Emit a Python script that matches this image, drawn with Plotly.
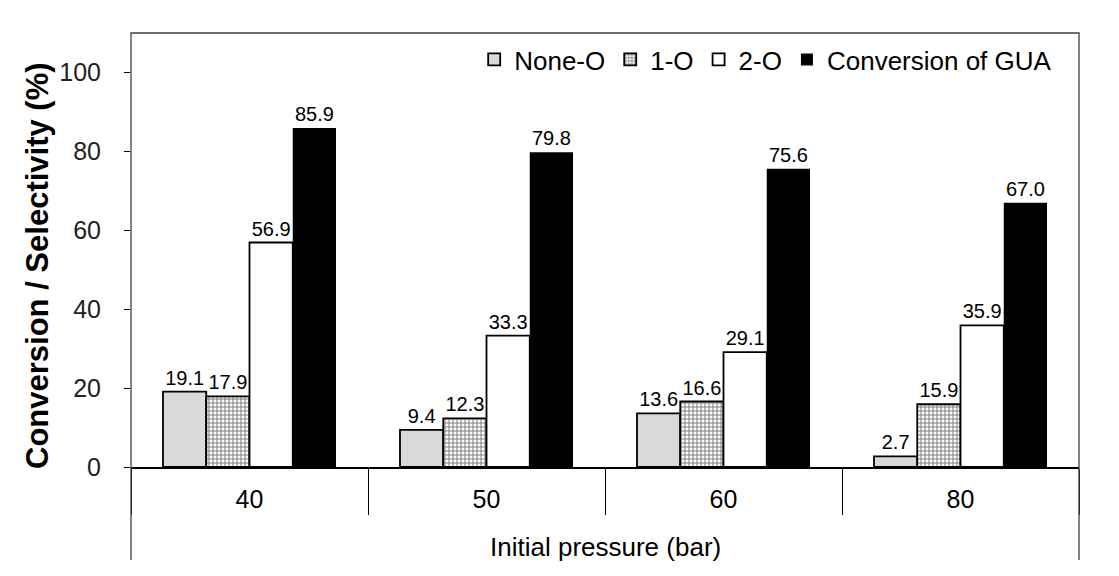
import plotly.graph_objects as go

categories = ["40", "50", "60", "80"]
none_o = [19.1, 9.4, 13.6, 2.7]
one_o = [17.9, 12.3, 16.6, 15.9]
two_o = [56.9, 33.3, 29.1, 35.9]
conversion = [85.9, 79.8, 75.6, 67.0]
series_names = ["None-O", "1-O", "2-O", "Conversion of GUA"]
y_ticks = [0, 20, 40, 60, 80, 100]

FONT = "Liberation Sans, Arial, sans-serif"

fig = go.Figure()

def add(name, vals, color, pattern=None, lw=1.8):
    fig.add_trace(go.Bar(
        name=name, x=categories, y=vals,
        marker=dict(color=color, line=dict(color="black", width=lw),
                    pattern=pattern),
        text=[f"{v:.1f}" for v in vals], textposition="outside",
        textfont=dict(family=FONT, size=20, color="black"),
        constraintext="none", cliponaxis=False,
    ))

add(series_names[0], none_o, "#d9d9d9")
add(series_names[1], one_o, "white",
    pattern=dict(shape="+", fgcolor="black", bgcolor="white", size=4, solidity=0.45))
add(series_names[2], two_o, "white")
add(series_names[3], conversion, "black", lw=0)

# page body has an 8px margin, so the figure is sized to fit the window
W, H = 1111, 568
L, R, T = 123, 40, 25
PH = 434
B = H - T - PH
PW = W - L - R

frame_bottom = -(93) / PH

fig.update_layout(
    width=W, height=H,
    margin=dict(l=L, r=R, t=T, b=B),
    paper_bgcolor="white", plot_bgcolor="white",
    barmode="group", bargap=0.27, bargroupgap=0,
    font=dict(family=FONT, size=20, color="black"),
    showlegend=True,
    legend=dict(orientation="h", x=0.977, xanchor="right", y=0.993, yanchor="top",
                font=dict(family=FONT, size=26, color="black"),
                bgcolor="rgba(0,0,0,0)", itemwidth=30, tracegroupgap=0),
    xaxis=dict(
        type="category", tickson="boundaries", ticks="outside", ticklen=46,
        tickcolor="black", tickwidth=1, showline=True, linecolor="black", linewidth=1.5,
        tickfont=dict(family=FONT, size=25, color="black"),
        ticklabelstandoff=9, showgrid=False, zeroline=False,
    ),
    yaxis=dict(
        range=[0, 110], tickvals=y_ticks, ticks="outside", ticklen=6,
        tickcolor="black", showline=False, showgrid=False, zeroline=False,
        tickfont=dict(family=FONT, size=25, color="#222"),
        ticklabelstandoff=18,
    ),
    shapes=[
        dict(type="path", xref="paper", yref="paper",
             path=f"M 0 {frame_bottom} L 0 1 L 1 1 L 1 {frame_bottom}",
             line=dict(color="#404040", width=1.3)),
    ],
    annotations=[
        dict(text="<b>Conversion / Selectivity (%)</b>", xref="paper", yref="paper",
             x=-(L + 8 - 37) / PW, y=(201) / PH, textangle=-90,
             showarrow=False, font=dict(family=FONT, size=31, color="black"),
             xanchor="center", yanchor="middle"),
        dict(text="Initial pressure (bar)", xref="paper", yref="paper",
             x=0.5, y=-(80) / PH, showarrow=False,
             font=dict(family=FONT, size=26, color="black"),
             xanchor="center", yanchor="middle"),
    ],
)

fig.write_html("out.html")
